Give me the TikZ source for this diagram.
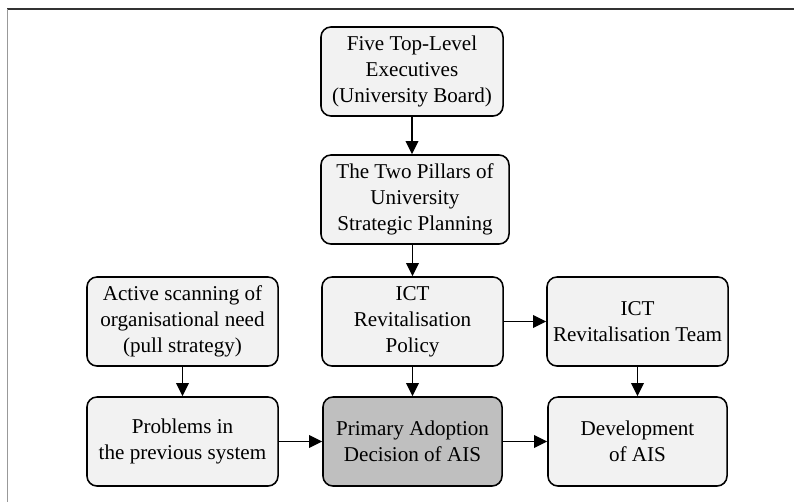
\documentclass[tikz,border=0pt]{standalone}
\usepackage{fontspec}
\setmainfont{Liberation Serif}
\usetikzlibrary{arrows.meta}

\definecolor{boxgray}{HTML}{F2F2F2}
\definecolor{keygray}{HTML}{BFBFBF}

\tikzset{
    stage/.style={draw, rounded corners=0.25cm, fill=boxgray, line width=1.1pt,
        minimum height=2.225cm, align=center, inner sep=2pt,
        font=\fontsize{15}{18.5}\selectfont},
    flow/.style={-{Triangle[length=0.33cm,width=0.32cm]}, line width=1pt}
}

\begin{document}
\begin{tikzpicture}[x=0.025cm,y=0.025cm]
        \useasboundingbox (0,0) rectangle (794,502);
        \draw[color=black!80, line width=1.1pt] (7,493) -- (794,493);
        \draw[color=black!40, line width=1.4pt] (7.5,493) -- (7.5,0);

        \node[stage, minimum width=4.55cm] (board) at (412,430.5) {Five Top-Level\\Executives\\(University Board)};
        \node[stage, minimum width=4.7cm] (pillars) at (415,302.5) {The Two Pillars of\\University\\Strategic Planning};
        \node[stage, minimum width=4.775cm] (scan) at (182.5,180.5) {Active scanning of\\organisational need\\(pull strategy)};
        \node[stage, minimum width=4.525cm] (policy) at (412.5,180.5) {ICT\\Revitalisation\\Policy};
        \node[stage, minimum width=4.525cm] (team) at (637.5,180.5) {ICT\\Revitalisation Team};
        \node[stage, minimum width=4.775cm] (problems) at (182.5,60.5) {Problems in\\the previous system};
        \node[stage, minimum width=4.475cm, fill=keygray] (adopt) at (412.5,60.5) {Primary Adoption\\Decision of AIS};
        \node[stage, minimum width=4.475cm] (develop) at (637.5,60.5) {Development\\of AIS};

        \draw[flow] (board.south) -- (board.south|-pillars.north);
        \draw[flow] (policy.north|-pillars.south) -- (policy.north);
        \draw[flow] (policy.east) -- (team.west);
        \draw[flow] (policy.south) -- (adopt.north);
        \draw[flow] (scan.south) -- (problems.north);
        \draw[flow] (team.south) -- (develop.north);
        \draw[flow] (problems.east) -- (adopt.west);
        \draw[flow] (adopt.east) -- (develop.west);
\end{tikzpicture}
\end{document}
